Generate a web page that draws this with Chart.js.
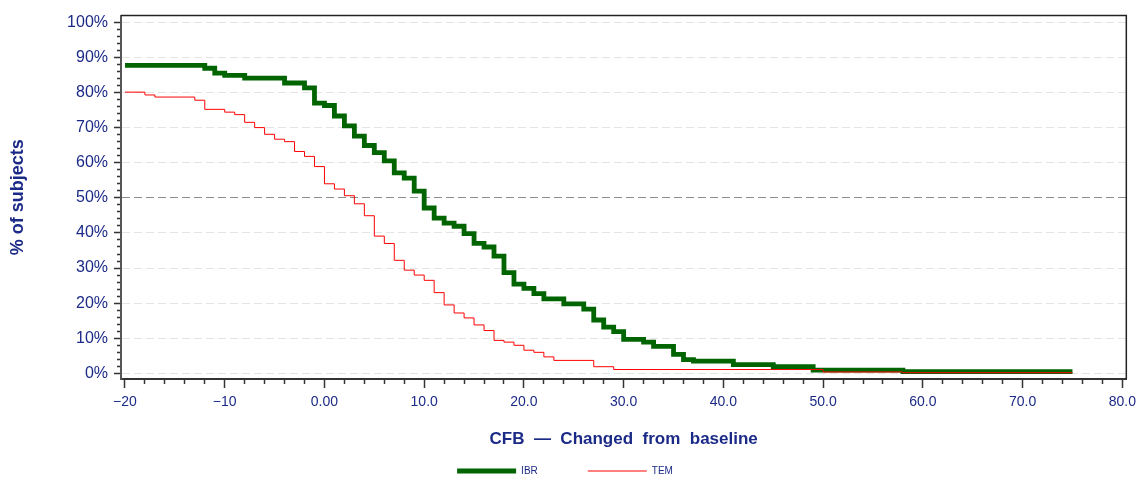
<!DOCTYPE html>
<html>
<head>
<meta charset="utf-8">
<title>CFB cumulative distribution</title>
<script src="https://cdn.jsdelivr.net/npm/chart.js@4"></script>
<style>
  html, body { margin: 0; background: #fff; }
  #wrap { width: 1142px; height: 479px; }
</style>
</head>
<body>
<div id="wrap"><canvas id="chart"></canvas></div>
<script>
// % of subjects with a change from baseline at or above each value (step curves)
const cfbIbr = [-20, -12, -11, -10, -8, -4, -2, -1, 0, 1, 2, 3, 4, 5, 6, 7, 8, 9, 10, 11, 12, 13, 14, 15, 16, 17, 18, 19, 20, 21, 22, 24, 26, 27, 28, 29, 30, 32, 33, 35, 36, 37, 41, 45, 49, 58, 75];
const pctIbr = [87.7, 86.9, 85.5, 84.9, 84.1, 82.7, 81.3, 77.0, 76.3, 73.3, 70.5, 67.6, 64.9, 62.9, 60.5, 57.1, 55.6, 51.9, 47.1, 44.2, 42.8, 41.9, 39.8, 37.0, 36.0, 33.4, 28.7, 25.4, 24.2, 22.7, 21.2, 19.8, 18.3, 15.2, 13.2, 11.9, 9.7, 8.9, 7.7, 5.4, 3.9, 3.5, 2.5, 1.9, 0.9, 0.5, 0.5];

const cfbTem = [-20, -18, -17, -13, -12, -10, -9, -8, -7, -6, -5, -4, -3, -2, -1, 0, 1, 2, 3, 4, 5, 6, 7, 8, 9, 10, 11, 12, 13, 14, 15, 16, 17, 18, 19, 20, 21, 22, 23, 27, 29, 50, 58, 75];
const pctTem = [80.1, 79.3, 78.7, 77.8, 75.2, 74.4, 73.7, 71.5, 70.0, 68.1, 66.7, 66.0, 63.2, 61.8, 58.9, 54.0, 52.5, 50.6, 48.3, 44.9, 39.1, 37.0, 32.2, 29.4, 28.0, 26.5, 23.0, 19.5, 17.2, 15.8, 13.8, 12.2, 9.4, 8.9, 8.0, 6.6, 6.0, 4.7, 3.7, 1.9, 1.1, 0.4, 0.2, 0.2];

const seriesNames = ['IBR', 'TEM'];

const xMajor = [-20, -10, 0, 10, 20, 30, 40, 50, 60, 70, 80];
const xTickLabels = ['\u221220', '\u221210', '0.00', '10.0', '20.0', '30.0', '40.0', '50.0', '60.0', '70.0', '80.0'];
const yMajor = [0, 10, 20, 30, 40, 50, 60, 70, 80, 90, 100];
const yTickLabels = ['0%', '10%', '20%', '30%', '40%', '50%', '60%', '70%', '80%', '90%', '100%'];

const NAVY = '#1b2a87';
const FONT = 'Liberation Sans, Arial, sans-serif';

// minor tick every 2 units between the labelled ones
const xSteps = [];
for (let v = -20; v <= 80; v += 2) xSteps.push(v);
const ySteps = [];
for (let v = 0; v <= 100; v += 2) ySteps.push(v);

const isMajor = v => v % 10 === 0;
const toPoints = (xs, ys) => xs.map((x, i) => ({ x, y: ys[i] }));

// top and right edges of the plot box
const plotFrame = {
    id: 'plotFrame',
    afterDraw(chart) {
        const { ctx, chartArea: a } = chart;
        ctx.save();
        ctx.strokeStyle = '#222';
        ctx.lineWidth = 1.5;
        ctx.beginPath();
        ctx.moveTo(a.left, a.top);
        ctx.lineTo(a.right, a.top);
        ctx.lineTo(a.right, a.bottom);
        ctx.stroke();
        ctx.restore();
    }
};

// extra room after the first legend entry
const legendGap = ['\u2002'.repeat(8), ''];

new Chart(document.getElementById('chart'), {
    type: 'line',
    data: {
        datasets: [
            {
                label: seriesNames[0],
                data: toPoints(cfbIbr, pctIbr),
                borderColor: '#006400',
                borderWidth: 4.8,
                order: 1,
            },
            {
                label: seriesNames[1],
                data: toPoints(cfbTem, pctTem),
                borderColor: '#ff0000',
                borderWidth: 1,
                order: 0,
            }
        ]
    },
    options: {
        responsive: true,
        maintainAspectRatio: false,
        animation: false,
        events: [],
        layout: { padding: { top: 13, right: 12, bottom: -7, left: 0 } },
        elements: {
            point: { radius: 0 },
            line: { stepped: true, tension: 0, fill: false, borderCapStyle: 'butt' }
        },
        plugins: {
            tooltip: { enabled: false },
            legend: {
                position: 'bottom',
                labels: {
                    usePointStyle: true,
                    pointStyleWidth: 59,
                    padding: 10,
                    color: NAVY,
                    font: { family: FONT, size: 10 },
                    generateLabels: chart => chart.data.datasets.map((ds, i) => ({
                        text: ds.label + legendGap[i],
                        fillStyle: ds.borderColor,
                        strokeStyle: ds.borderColor,
                        lineWidth: ds.borderWidth,
                        pointStyle: 'line',
                        fontColor: NAVY,
                        hidden: false,
                        datasetIndex: i,
                    })),
                }
            }
        },
        scales: {
            x: {
                type: 'linear',
                min: -20.4,
                max: 80.4,
                afterBuildTicks: s => { s.ticks = xSteps.map(value => ({ value })); },
                afterFit: s => { s.height = 77; },
                grid: {
                    drawOnChartArea: false,
                    tickLength: 9,
                    tickWidth: 1.5,
                    tickColor: '#333',
                    tickBorderDash: c => (c.tick && !isMajor(c.tick.value)) ? [4, 40] : [],
                },
                border: { color: '#333', width: 2 },
                ticks: {
                    autoSkip: false,
                    maxRotation: 0,
                    padding: 6,
                    color: NAVY,
                    font: { family: FONT, size: 14 },
                    callback: v => {
                        const i = xMajor.indexOf(v);
                        return i < 0 ? '' : xTickLabels[i];
                    }
                },
                title: {
                    display: true,
                    text: 'CFB  \u2014  Changed  from  baseline',
                    color: NAVY,
                    font: { family: FONT, size: 17, weight: 'bold' },
                    padding: { top: 4, bottom: 6 }
                }
            },
            y: {
                min: -1.6,
                max: 101.9,
                afterBuildTicks: s => { s.ticks = ySteps.map(value => ({ value })); },
                afterFit: s => { s.width = 121; },
                grid: {
                    color: c => {
                        if (!c.tick || !isMajor(c.tick.value)) return 'rgba(0,0,0,0)';
                        return c.tick.value === 50 ? '#8c8c8c' : '#e4e4e4';
                    },
                    lineWidth: 1,
                    tickLength: 7,
                    tickWidth: 1.5,
                    tickColor: '#333',
                    tickBorderDash: c => (c.tick && !isMajor(c.tick.value)) ? [0, 3, 20, 20] : [],
                },
                border: { color: '#555', width: 2, dash: [8, 4] },
                ticks: {
                    autoSkip: false,
                    padding: 6,
                    color: NAVY,
                    font: { family: FONT, size: 16 },
                    callback: v => {
                        const i = yMajor.indexOf(v);
                        return i < 0 ? '' : yTickLabels[i];
                    }
                },
                title: {
                    display: true,
                    text: '% of subjects',
                    color: NAVY,
                    font: { family: FONT, size: 18, weight: 'bold' },
                    padding: { top: 7, bottom: 0 }
                }
            }
        }
    },
    plugins: [plotFrame]
});
</script>
</body>
</html>
